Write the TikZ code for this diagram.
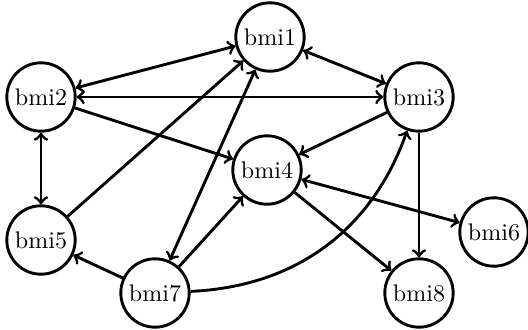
\documentclass[tikz,border=0pt]{standalone}
\begin{document}
\begin{tikzpicture}[x=0.4167pt,y=-0.4167pt,
  vertex/.style={circle,draw,line width=1.2pt,minimum size=28.5pt,inner sep=0pt},
  edge/.style={line width=1.2pt,->},
  biedge/.style={line width=1.2pt,<->}]
\useasboundingbox (0,0) rectangle (528,330);
\node[vertex] (b1) at (270,37) {bmi1};
\node[vertex] (b2) at (41,97) {bmi2};
\node[vertex] (b3) at (419,97) {bmi3};
\node[vertex] (b4) at (267,170) {bmi4};
\node[vertex] (b5) at (41,240) {bmi5};
\node[vertex] (b6) at (494,232) {bmi6};
\node[vertex] (b7) at (155,293) {bmi7};
\node[vertex] (b8) at (419,293) {bmi8};
\draw[biedge] (b2) -- (b1);
\draw[biedge] (b1) -- (b3);
\draw[biedge] (b2) -- (b3);
\draw[biedge] (b2) -- (b5);
\draw[biedge] (b4) -- (b6);
\draw[biedge] (b7) -- (b1);
\draw[edge] (b2) -- (b4);
\draw[edge] (b3) -- (b4);
\draw[edge] (b3) -- (b8);
\draw[edge] (b4) -- (b8);
\draw[edge] (b5) -- (b1);
\draw[edge] (b7) -- (b4);
\draw[edge] (b7) -- (b5);
\draw[edge] (b7) to[bend right=34] (b3);
\end{tikzpicture}
\end{document}
